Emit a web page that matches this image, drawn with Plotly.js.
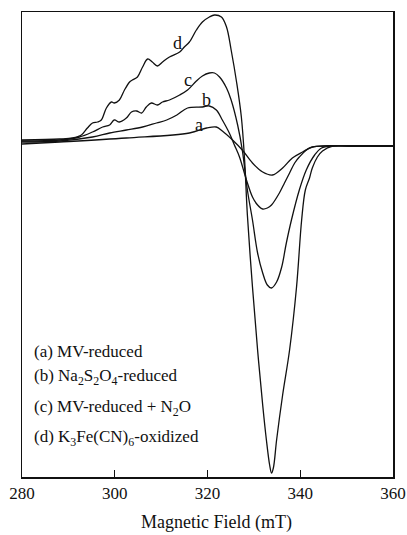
<!DOCTYPE html>
<html>
<head>
<meta charset="utf-8">
<script src="https://cdn.plot.ly/plotly-3.0.1.min.js"></script>
<style>
  html, body { margin: 0; padding: 0; background: #fff; }
  #chart { width: 407px; height: 535px; }
</style>
</head>
<body>
<div id="chart"></div>
<script>
// Magnetic field (mT) and EPR signal (arbitrary units) for each spectrum
const fieldA = [280, 288.1, 302.5, 316.1, 319.8, 321.9, 323.2, 325.4, 327.5, 329.7, 331.9, 334.0, 336.2, 338.3, 340.5, 342.6, 345.7, 350.7, 360];
const signalA = [0, 2, 6, 11, 16, 17, 13, 4, -6, -19, -28, -31, -24, -14, -8, -3, -2, -2, -2];

const fieldB = [280, 288.1, 295.2, 298.9, 302.5, 306.0, 309.0, 311.2, 313.4, 315.7, 318.9, 320.4, 321.9, 323.2, 324.7, 325.8, 326.9, 328.4, 329.7, 330.8, 331.9, 332.9, 333.8, 335.5, 336.6, 337.7, 338.8, 339.8, 342.0, 344.8, 350.7, 360];
const signalB = [2, 3, 7, 11, 14, 17, 21, 24, 29, 36, 37, 38, 34, 24, 11, -1, -13, -36, -53, -61, -65, -64, -61, -49, -39, -29, -19, -13, -4, -2, -2, -2];

const fieldC = [280, 288.1, 292.4, 295.2, 297.4, 298.9, 299.9, 301.0, 302.5, 303.6, 304.7, 305.8, 306.8, 307.9, 309.2, 310.3, 311.8, 314.0, 315.7, 317.6, 318.9, 320.4, 321.5, 322.6, 324.1, 325.1, 326.5, 327.5, 328.6, 329.7, 330.8, 331.9, 332.9, 333.8, 334.9, 336.0, 337.0, 338.1, 339.8, 341.3, 343.1, 344.6, 347.0, 350.7, 360];
const signalC = [3, 4, 7, 12, 17, 19, 24, 22, 26, 32, 33, 31, 37, 41, 39, 42, 44, 49, 54, 63, 68, 71, 71, 67, 56, 44, 19, -6, -46, -76, -109, -129, -141, -144, -138, -123, -99, -76, -46, -26, -11, -4, -2, -2, -2];

const fieldD = [280, 288.1, 290.9, 292.8, 294.1, 295.2, 296.3, 297.1, 298.2, 299.3, 299.9, 301.0, 302.1, 303.2, 303.8, 304.9, 306.0, 307.1, 308.1, 309.2, 310.3, 311.8, 314.0, 315.0, 316.1, 317.6, 318.9, 320.4, 321.5, 323.0, 324.1, 325.1, 326.3, 327.3, 328.0, 328.6, 329.7, 330.8, 331.9, 332.7, 333.4, 333.8, 334.2, 334.9, 336.2, 337.7, 339.2, 340.3, 341.1, 342.0, 342.6, 343.7, 344.8, 347.0, 350.7, 360];
const signalD = [4, 5, 6, 9, 16, 21, 22, 24, 36, 42, 41, 44, 54, 62, 64, 67, 77, 85, 82, 78, 82, 87, 92, 97, 102, 114, 122, 127, 129, 127, 117, 94, 61, 27, -16, -71, -143, -206, -261, -296, -321, -329, -324, -296, -251, -206, -143, -76, -46, -34, -24, -13, -7, -2, -2, -2];

const curveLabels = ['a', 'b', 'c', 'd'];
const labelField = [318.1, 319.8, 315.7, 313.6];
const labelSignal = [19, 44, 64, 101];

const legendLines = [
  '(a) MV-reduced',
  '(b) Na<sub>2</sub>S<sub>2</sub>O<sub>4</sub>-reduced',
  '(c) MV-reduced + N<sub>2</sub>O',
  '(d) K<sub>3</sub>Fe(CN)<sub>6</sub>-oxidized'
];
const legendY = [0.269, 0.215, 0.148, 0.084];

const xTicks = [280, 300, 320, 340, 360];
const xTitle = 'Magnetic Field (mT)';

const font = 'Liberation Serif';
const lineStyle = {color: '#111', width: 1.3, shape: 'spline', smoothing: 1};

const series = [[fieldA, signalA], [fieldB, signalB], [fieldC, signalC], [fieldD, signalD]];
const traces = series.map(s => ({
  x: s[0], y: s[1], type: 'scatter', mode: 'lines', line: lineStyle, hoverinfo: 'skip'
}));

const annotations = [];
curveLabels.forEach((t, i) => annotations.push({
  x: labelField[i], y: labelSignal[i], xref: 'x', yref: 'y', text: t, showarrow: false,
  font: {family: font, size: 18, color: '#111'}, xanchor: 'center', yanchor: 'middle'
}));
legendLines.forEach((t, i) => annotations.push({
  x: 0.027, y: legendY[i], xref: 'paper', yref: 'paper', text: t, showarrow: false,
  font: {family: font, size: 17, color: '#111'}, xanchor: 'left', yanchor: 'middle', align: 'left'
}));
// axis title near the bottom edge, as in the reference
annotations.push({
  x: 0.523, y: -0.1235, xref: 'paper', yref: 'paper', text: xTitle, showarrow: false,
  font: {family: font, size: 18, color: '#111'}, xanchor: 'center', yanchor: 'bottom',
  borderpad: 0
});

const layout = {
  width: 407, height: 535,
  margin: {l: 22, r: 14, t: 12, b: 58},
  paper_bgcolor: '#fff', plot_bgcolor: '#fff',
  showlegend: false,
  font: {family: font, size: 17, color: '#111'},
  xaxis: {
    range: [280, 360], tickvals: xTicks, ticktext: xTicks.map(String),
    ticks: 'inside', ticklen: 7, tickwidth: 1.3, tickcolor: '#111',
    showline: true, linecolor: '#111', linewidth: 1.5, mirror: true,
    showgrid: false, zeroline: false,
    tickfont: {family: font, size: 17, color: '#111'}
  },
  yaxis: {
    range: [-333, 132], showticklabels: false, ticks: '',
    showline: true, linecolor: '#111', linewidth: 1.5, mirror: true,
    showgrid: false, zeroline: false
  },
  annotations: annotations
};

Plotly.newPlot('chart', traces, layout, {staticPlot: true, displayModeBar: false});
</script>
</body>
</html>
